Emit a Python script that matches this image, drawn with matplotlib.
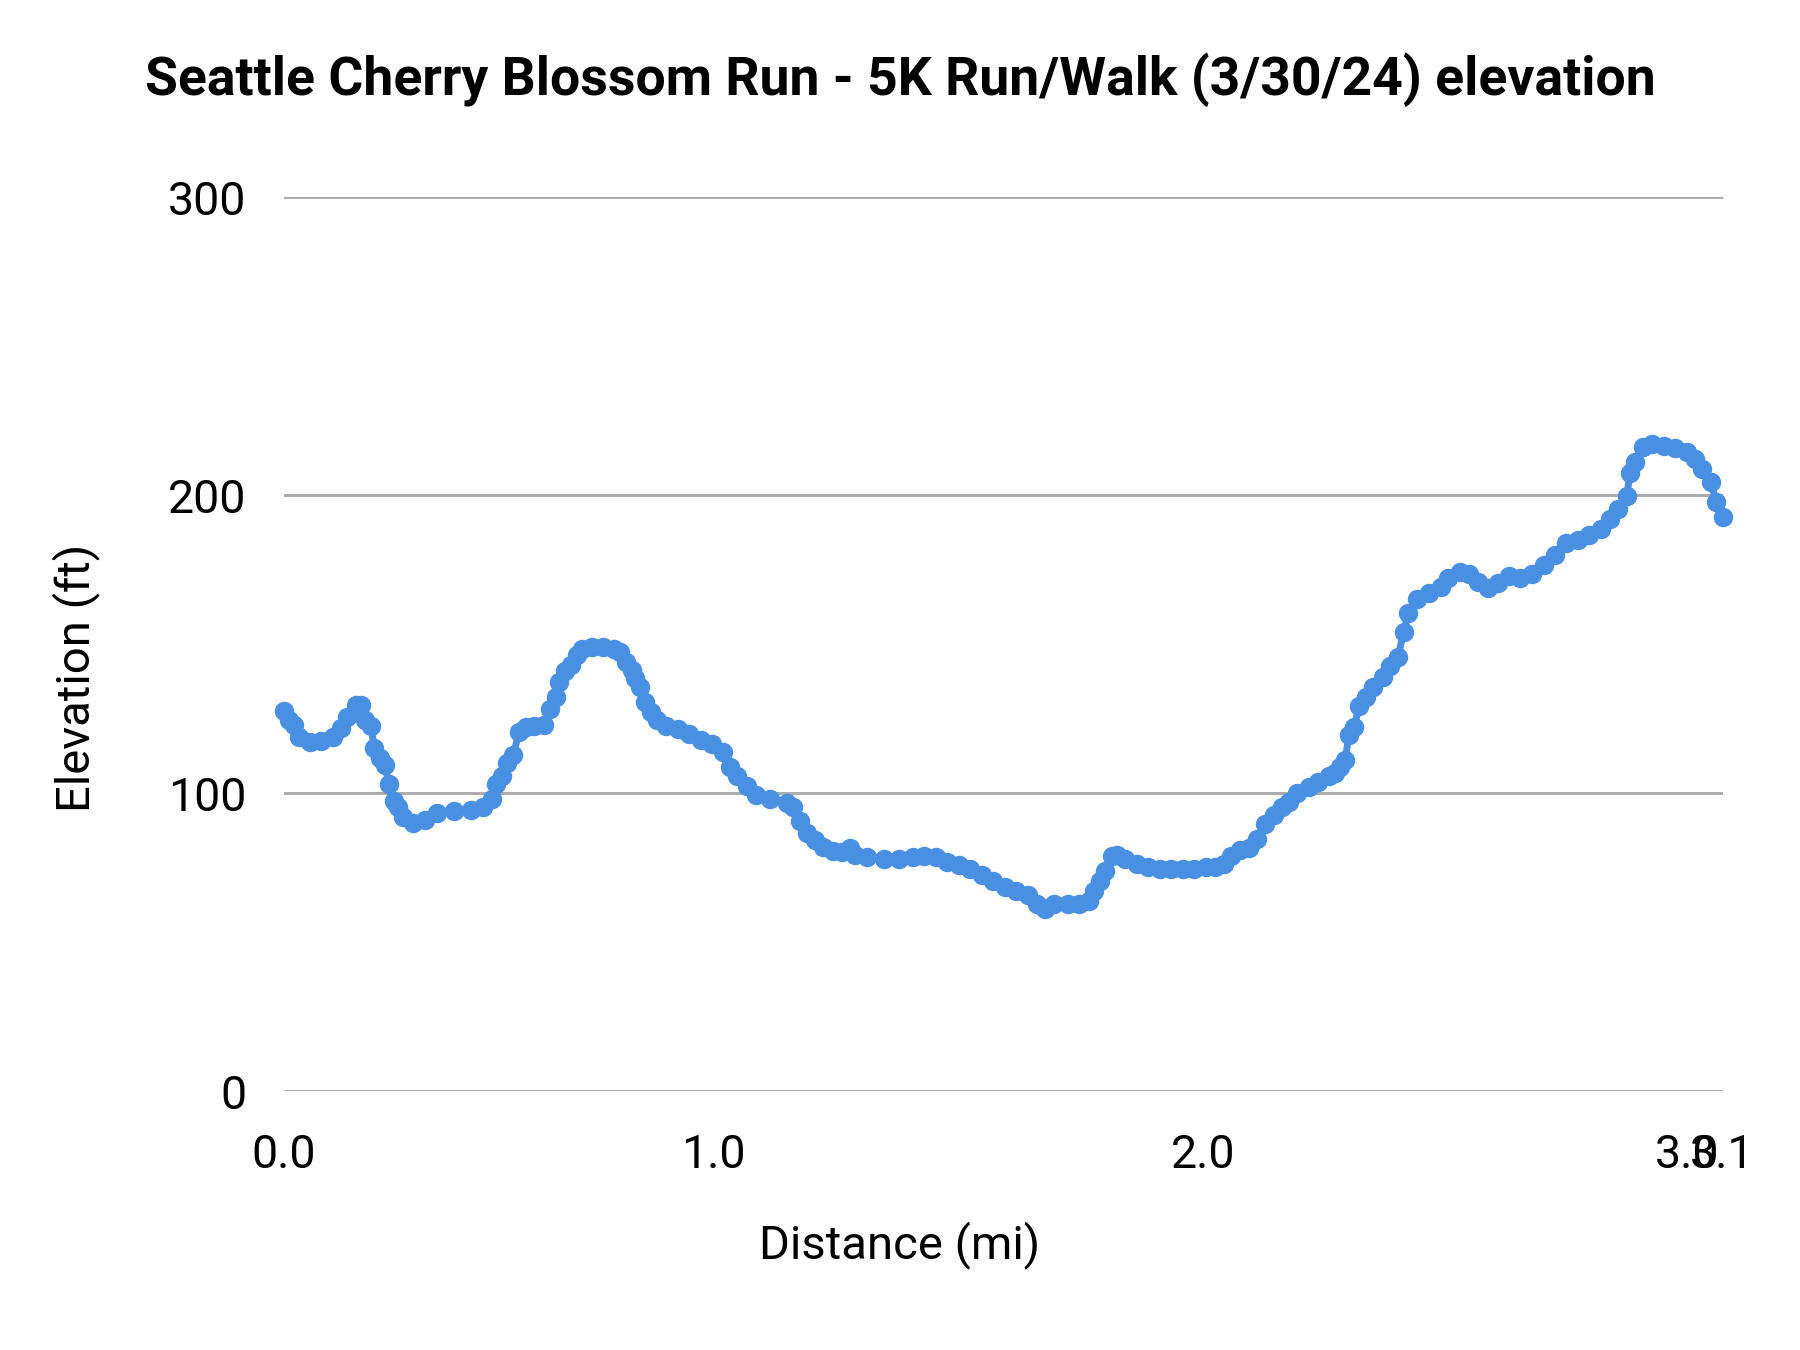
import numpy as np
import matplotlib
matplotlib.use("Agg")
import matplotlib.pyplot as plt

plt.rcParams['font.family'] = ['Roboto', 'DejaVu Sans']

# distance along the course (mi) and elevation (ft)
dist = [0.000, 0.013, 0.024, 0.035, 0.061, 0.088, 0.115, 0.134, 0.147, 0.168,
        0.179, 0.190, 0.203, 0.211, 0.225, 0.235, 0.246, 0.257, 0.267, 0.278,
        0.302, 0.329, 0.356, 0.396, 0.436, 0.463, 0.484, 0.495, 0.508, 0.521,
        0.535, 0.548, 0.564, 0.583, 0.607, 0.620, 0.634, 0.642, 0.655, 0.668,
        0.682, 0.695, 0.717, 0.743, 0.770, 0.783, 0.797, 0.810, 0.818, 0.829,
        0.842, 0.856, 0.869, 0.890, 0.917, 0.944, 0.971, 0.997, 1.021, 1.035,
        1.049, 1.068, 1.087, 1.115, 1.150, 1.162, 1.178, 1.192, 1.208, 1.225,
        1.244, 1.262, 1.279, 1.290, 1.314, 1.349, 1.379, 1.407, 1.431, 1.454,
        1.478, 1.501, 1.525, 1.548, 1.571, 1.595, 1.618, 1.642, 1.660, 1.677,
        1.696, 1.724, 1.747, 1.766, 1.778, 1.789, 1.799, 1.813, 1.824, 1.841,
        1.864, 1.888, 1.911, 1.934, 1.958, 1.981, 2.005, 2.024, 2.043, 2.057,
        2.076, 2.095, 2.111, 2.128, 2.147, 2.164, 2.178, 2.194, 2.218, 2.237,
        2.261, 2.273, 2.284, 2.294, 2.301, 2.313, 2.322, 2.336, 2.351, 2.372,
        2.386, 2.403, 2.415, 2.424, 2.443, 2.467, 2.491, 2.507, 2.531, 2.550,
        2.569, 2.590, 2.609, 2.633, 2.656, 2.680, 2.704, 2.727, 2.751, 2.775,
        2.799, 2.822, 2.841, 2.858, 2.877, 2.882, 2.893, 2.910, 2.929, 2.953,
        2.976, 3.000, 3.023, 3.043, 3.067, 3.083, 3.100]

elev = [127.6, 124.5, 123.0, 118.8, 117.2, 117.6, 118.8, 121.9, 125.7, 129.6,
        129.6, 124.5, 122.6, 115.3, 111.8, 109.5, 103.0, 97.6, 95.3, 92.2,
        90.2, 91.0, 93.3, 94.1, 94.5, 95.6, 98.0, 103.0, 105.7, 110.3,
        113.0, 120.7, 122.3, 122.6, 123.0, 128.4, 132.3, 137.3, 141.1, 143.0,
        146.5, 148.5, 149.2, 149.2, 148.5, 147.3, 144.2, 141.5, 138.8, 135.8,
        130.7, 127.3, 124.5, 122.6, 121.5, 119.9, 118.0, 116.5, 113.8, 108.8,
        106.0, 102.6, 99.5, 98.0, 96.8, 95.3, 90.6, 86.8, 84.5, 82.1,
        80.6, 80.2, 81.8, 79.4, 78.7, 77.9, 77.9, 78.7, 79.1, 78.7,
        77.1, 76.0, 74.8, 72.5, 70.6, 68.6, 67.1, 65.9, 62.9, 61.3,
        62.9, 62.9, 62.9, 64.0, 67.1, 70.6, 74.0, 79.1, 79.4, 77.9,
        76.4, 75.2, 74.8, 74.8, 74.8, 74.8, 75.2, 75.2, 76.4, 79.1,
        81.0, 81.8, 84.8, 89.9, 92.6, 95.3, 97.2, 100.3, 102.2, 103.7,
        105.7, 106.8, 108.8, 111.1, 119.6, 122.3, 129.2, 132.3, 135.8, 139.2,
        142.7, 145.8, 154.3, 160.4, 165.4, 167.4, 169.3, 172.4, 174.3, 173.5,
        170.8, 168.9, 170.5, 172.8, 172.4, 173.5, 176.6, 180.1, 184.0, 185.1,
        186.7, 188.6, 192.0, 195.5, 199.8, 207.5, 211.3, 216.3, 217.1, 216.7,
        216.0, 214.4, 212.1, 209.0, 204.4, 197.8, 192.8]

x_ticks = [0.0, 1.0, 2.0, 3.0, 3.1]
x_labels = ['0.0', '1.0', '2.0', '3.0', '3.1']
y_ticks = [0, 100, 200, 300]

fig = plt.figure(figsize=(18, 13.5), dpi=100)
ax = fig.add_axes([0.1576, 0.1915, 0.7994, 0.6623])

# the source chart spaces its labelled points unevenly (category axis)
tick_frac = [0.0, 0.2985, 0.639, 0.975, 1.0]
fwd = lambda m: np.interp(m, x_ticks, tick_frac)
inv = lambda p: np.interp(p, tick_frac, x_ticks)
ax.set_xscale('function', functions=(fwd, inv))

ax.plot(dist, elev, color='#4a90e2', lw=5, marker='o', ms=13,
        mec='#4a90e2', mfc='#4a90e2', clip_on=False, zorder=3)

ax.set_xlim(0, 3.1)
ax.set_ylim(0, 300)
ax.set_xticks(x_ticks)
ax.set_xticklabels(x_labels)
ax.set_yticks(y_ticks)
ax.yaxis.grid(True, color='#aaaaaa', lw=2.1)
ax.xaxis.grid(False)
for s in ax.spines.values():
    s.set_visible(False)
ax.tick_params(length=0, labelsize=33.5, colors='#000000')
ax.tick_params(axis='y', pad=27)
ax.tick_params(axis='x', pad=30)

fig.text(0.5, 0.941, 'Seattle Cherry Blossom Run - 5K Run/Walk (3/30/24) elevation',
         ha='center', va='center', fontsize=38.5, fontweight='bold')
fig.text(0.5, 0.078, 'Distance (mi)', ha='center', va='center', fontsize=34)
fig.text(0.042, 0.498, 'Elevation (ft)', ha='center', va='center', fontsize=34,
         rotation=90)

fig.savefig('out.png', dpi=100)
